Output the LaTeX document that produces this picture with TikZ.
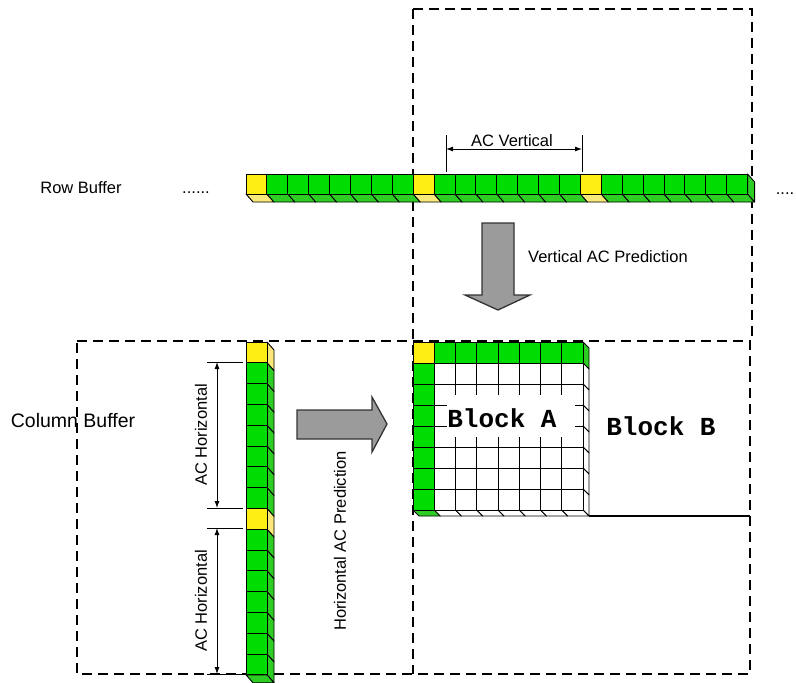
\documentclass[tikz,border=0pt]{standalone}
\usepackage{fontspec}
\setmainfont{Liberation Sans}
\newfontfamily\blockfont{Liberation Mono}
\usetikzlibrary{arrows.meta}
\definecolor{cgreen}{RGB}{0,221,0}
\definecolor{cgreenside}{RGB}{45,205,35}
\definecolor{cyellow}{RGB}{255,238,20}
\definecolor{cyellowside}{RGB}{250,232,120}
\definecolor{arrowgray}{RGB}{155,155,155}
\begin{document}
\begin{tikzpicture}[x=1pt,y=-1pt,
  dashbox/.style={draw=black, line width=1.5pt, dash pattern=on 10pt off 6pt},
  cellline/.style={draw=black, line width=0.9pt, line join=round},
  lbl/.style={font=\fontsize{16.5}{18}\selectfont, inner sep=0pt},
  blk/.style={font=\blockfont\bfseries\fontsize{26}{28}\selectfont, inner sep=0pt},
  dimline/.style={line width=0.9pt, {Latex[length=7pt,width=5pt]}-{Latex[length=7pt,width=5pt]}},
  extline/.style={line width=0.9pt},
  bigarrow/.style={fill=arrowgray, draw=black!80, line width=1.3pt, line join=miter}
]
\useasboundingbox[fill=white] (0,0) rectangle (796,683);

% dashed frames
\draw[dashbox] (413,9) -- (752,9) -- (752,341);
\draw[dashbox] (413,9) -- (413,674);
\draw[dashbox] (77,341) -- (750,341) -- (750,674) -- (77,674) -- cycle;

% row buffer
\foreach \i in {0,...,23} {
  \pgfmathsetmacro\xa{246+\i*20.9}
  \pgfmathsetmacro\xb{\xa+20.9}
  \pgfmathtruncatemacro\m{mod(\i,8)}
  \ifnum\m=0 \def\fc{cyellow}\def\sc{cyellowside}\else\def\fc{cgreen}\def\sc{cgreenside}\fi
  \filldraw[fill=\sc, cellline] (\xa,194) -- (\xb,194) -- (\xb+7,202) -- (\xa+7,202) -- cycle;
  \filldraw[fill=\fc, cellline] (\xa,174) rectangle (\xb,194);
}
\filldraw[fill=cgreenside, cellline] (747.6,174) -- (754.6,182) -- (754.6,202) -- (747.6,194) -- cycle;

% column buffer
\foreach \j in {0,...,15} {
  \pgfmathsetmacro\ya{342+\j*20.8}
  \pgfmathsetmacro\yb{\ya+20.8}
  \pgfmathtruncatemacro\m{mod(\j,8)}
  \ifnum\m=0 \def\fc{cyellow}\def\sc{cyellowside}\else\def\fc{cgreen}\def\sc{cgreenside}\fi
  \filldraw[fill=\sc, cellline] (267,\ya) -- (274,\ya+8) -- (274,\yb+8) -- (267,\yb) -- cycle;
  \filldraw[fill=\fc, cellline] (246,\ya) rectangle (267,\yb);
}
\filldraw[fill=cgreenside, cellline] (246,674.8) -- (267,674.8) -- (274,682.8) -- (253,682.8) -- cycle;

% block A
\foreach \i in {0,...,7} {
  \foreach \j in {0,...,7} {
    \pgfmathsetmacro\xa{413+\i*21.25}
    \pgfmathsetmacro\xb{\xa+21.25}
    \pgfmathsetmacro\ya{342+\j*21}
    \pgfmathsetmacro\yb{\ya+21}
    \pgfmathtruncatemacro\s{\i+\j}
    \pgfmathtruncatemacro\p{\i*\j}
    \ifnum\s=0 \def\fc{cyellow}\else\ifnum\p=0 \def\fc{cgreen}\else\def\fc{white}\fi\fi
    \ifnum\i=7
      \ifnum\j=0 \def\sc{cgreenside}\else\def\sc{white}\fi
      \filldraw[fill=\sc, cellline] (\xb,\ya) -- (\xb+6,\ya+6) -- (\xb+6,\yb+6) -- (\xb,\yb) -- cycle;
    \fi
    \ifnum\j=7
      \ifnum\i=0 \def\sc{cgreenside}\else\def\sc{white}\fi
      \filldraw[fill=\sc, cellline] (\xa,\yb) -- (\xb,\yb) -- (\xb+6,\yb+6) -- (\xa+6,\yb+6) -- cycle;
    \fi
    \filldraw[fill=\fc, cellline] (\xa,\ya) rectangle (\xb,\yb);
  }
}
\fill[white] (447,395) rectangle (575,437);
\draw[line width=1.2pt] (589,516) -- (750,516);

% dimension: AC Vertical
\coordinate (avT1) at (446,135); \coordinate (avB1) at (446,172);
\coordinate (avT2) at (582,135); \coordinate (avB2) at (582,172);
\coordinate (avL) at (446,149); \coordinate (avR) at (582,149);
\draw[extline] (avT1) -- (avB1);
\draw[extline] (avT2) -- (avB2);
\draw[dimline] (avL) -- (avR);
\node[lbl] (acv) at (512,141) {AC Vertical};

% dimension: AC Horizontal
\coordinate (h1a) at (207,362); \coordinate (h1b) at (243,362);
\coordinate (h2a) at (207,508); \coordinate (h2b) at (243,508);
\coordinate (h3a) at (207,528); \coordinate (h3b) at (243,528);
\coordinate (h4a) at (207,674); \coordinate (h4b) at (243,674);
\draw[extline] (h1a) -- (h1b);
\draw[extline] (h2a) -- (h2b);
\draw[extline] (h3a) -- (h3b);
\draw[extline] (h4a) -- (h4b);
\coordinate (d1t) at (217,362); \coordinate (d1b) at (217,508);
\coordinate (d2t) at (217,528); \coordinate (d2b) at (217,674);
\draw[dimline] (d1t) -- (d1b);
\draw[dimline] (d2t) -- (d2b);
\node[lbl, rotate=90] (ach1) at (201,435) {AC Horizontal};
\node[lbl, rotate=90] (ach2) at (201,601) {AC Horizontal};

% big arrows
\draw[bigarrow] (482,223) -- (514,223) -- (514,295) -- (530,295) -- (498,310) -- (465,295) -- (482,295) -- cycle;
\draw[bigarrow] (297,410) -- (372,410) -- (372,397) -- (387,424) -- (372,452) -- (372,439) -- (297,439) -- cycle;

% labels
\node[lbl, anchor=base] (rowbuf) at (81,193) {Row Buffer};
\node[lbl, anchor=base] (dotsL) at (196,193) {......};
\node[lbl, anchor=base] (dotsR) at (785,194) {....};
\node[lbl, font=\fontsize{19.5}{21}\selectfont] (colbuf) at (73,421) {Column Buffer};
\node[lbl, anchor=west] (vacp) at (528,257) {Vertical AC Prediction};
\node[lbl, rotate=90] (hacp) at (340,541) {Horizontal AC Prediction};
\node[blk, anchor=base] (blockA) at (502,427) {Block A};
\node[blk, anchor=base] (blockB) at (661,435) {Block B};
\end{tikzpicture}
\end{document}
